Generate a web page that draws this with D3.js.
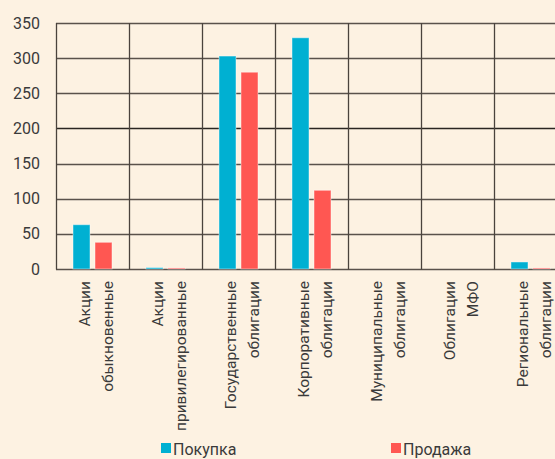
<!DOCTYPE html>
<html>
<head>
<meta charset="utf-8">
<script src="https://cdn.jsdelivr.net/npm/d3@7"></script>
<style>
  html, body { margin: 0; padding: 0; background: #fdf2e2; }
  svg { display: block; }
  text { font-family: Roboto, "Noto Sans", sans-serif; fill: #3a3a3a; }
</style>
</head>
<body>
<svg id="chart" width="555" height="459"></svg>
<script>
const categories = [
  ["Акции", "обыкновенные"],
  ["Акции", "привилегированные"],
  ["Государственные", "облигации"],
  ["Корпоративные", "облигации"],
  ["Муниципальные", "облигации"],
  ["Облигации", "МФО"],
  ["Региональные", "облигации"]
];
const seriesNames = ["Покупка", "Продажа"];
const buyValues  = [63, 2, 303, 329, 0, 0, 10];
const sellValues = [38, 1.5, 280, 112, 0, 0, 1.5];
const yTicks = [0, 50, 100, 150, 200, 250, 300, 350];
const colors = ["#00b0d2", "#ff5752"];

const svg = d3.select("#chart");
const W = 555, H = 459;
svg.append("rect").attr("width", W).attr("height", H).attr("fill", "#fdf2e2");

const plotLeft = 56, catStep = 73;
const plotTop = 23, plotBottom = 269;

const x = d3.scaleBand()
  .domain(d3.range(categories.length))
  .range([plotLeft, plotLeft + catStep * categories.length])
  .paddingInner(0).paddingOuter(0);

const xs = d3.scaleBand()
  .domain(seriesNames)
  .range([0, x.bandwidth()])
  .paddingInner(5 / 22)
  .paddingOuter(34 / 44);

const y = d3.scaleLinear().domain([0, 350]).range([plotBottom, plotTop]);

// horizontal gridlines
const g = svg.append("g");
g.selectAll("line.h").data(yTicks).join("line")
  .attr("class", "h")
  .attr("x1", plotLeft).attr("x2", W + 20)
  .attr("y1", d => Math.round(y(d)) + 0.5).attr("y2", d => Math.round(y(d)) + 0.5)
  .attr("stroke", d => d === 200 ? "#2a2622" : "#5a524b")
  .attr("stroke-width", 1.3);

// vertical category lines
const vlines = d3.range(categories.length + 1).map(i => plotLeft + i * catStep);
g.selectAll("line.v").data(vlines).join("line")
  .attr("class", "v")
  .attr("x1", d => d + 0.5).attr("x2", d => d + 0.5)
  .attr("y1", plotTop).attr("y2", plotBottom + 0.5)
  .attr("stroke", "#4a433d").attr("stroke-width", 1.3);

// y axis labels
svg.append("g").selectAll("text").data(yTicks).join("text")
  .attr("x", 40).attr("y", d => y(d))
  .attr("dy", "0.35em")
  .attr("text-anchor", "end")
  .style("font-size", "16px")
  .text(d => d);

// bars
const data = categories.map((c, i) => ({ i, vals: [buyValues[i], sellValues[i]] }));
const cg = svg.append("g").selectAll("g").data(data).join("g")
  .attr("transform", d => `translate(${x(d.i)},0)`);
cg.selectAll("rect").data(d => d.vals.map((v, k) => ({ v, k })))
  .join("rect")
  .attr("x", d => xs(seriesNames[d.k]))
  .attr("width", xs.bandwidth())
  .attr("y", d => y(d.v))
  .attr("height", d => plotBottom - y(d.v))
  .attr("fill", d => colors[d.k])
  .attr("stroke", "rgba(255,255,255,0.45)")
  .attr("stroke-width", 1);

// category labels
const lab = svg.append("g").selectAll("text").data(categories).join("text")
  .attr("transform", (d, i) => `translate(${x(i) + x.bandwidth() / 2},281) rotate(-90)`)
  .attr("text-anchor", "end")
  .style("font-size", "15.5px");
lab.each(function(d) {
  const t = d3.select(this);
  t.append("tspan").attr("x", 0).attr("y", -3).text(d[0]);
  t.append("tspan").attr("x", 0).attr("y", 20).text(d[1]);
});

// legend
const legendX = [161, 391];
const lg = svg.append("g").selectAll("g").data(seriesNames).join("g")
  .attr("transform", (d, i) => `translate(${legendX[i]},443)`);
lg.append("rect").attr("width", 10).attr("height", 10).attr("fill", (d, i) => colors[i]);
lg.append("text").attr("x", 12).attr("y", 12).style("font-size", "16px").text(d => d);
</script>
</body>
</html>
